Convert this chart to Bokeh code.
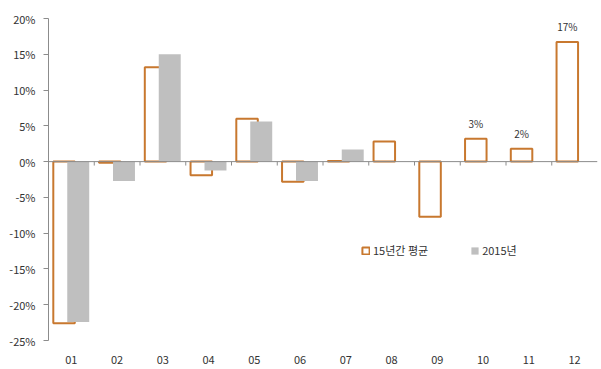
from bokeh.plotting import figure
from bokeh.models import (ColumnDataSource, FixedTicker, Range1d, Span,
                          Legend, LegendItem, PrintfTickFormatter)
from bokeh.core.properties import value
from bokeh.embed import file_html
from bokeh.resources import INLINE

months = ["01", "02", "03", "04", "05", "06", "07", "08", "09", "10", "11", "12"]
avg15 = [-22.6, -0.15, 13.2, -1.9, 6.0, -2.8, 0.1, 2.8, -7.7, 3.2, 1.8, 16.7]
y2015 = [-22.4, -2.7, 15.0, -1.25, 5.6, -2.7, 1.7, 0, 0, 0, 0, 0]
avg_labels = ["", "", "", "", "", "", "", "", "", "3%", "2%", "17%"]
y_ticks = [-25, -20, -15, -10, -5, 0, 5, 10, 15, 20]

ORANGE = "#C8782F"
GRAY = "#BFBFBF"
AXIS = "#8C8C8C"
FONT = "Noto Sans CJK KR"

n = len(months)
centers = [i + 0.5 for i in range(n)]
src = ColumnDataSource(dict(
    xa=[c - 0.16 for c in centers],
    xb=[c + 0.15 for c in centers],
    avg=avg15,
    y15=y2015,
))
lab_idx = [i for i, t in enumerate(avg_labels) if t]
lab_src = ColumnDataSource(dict(
    x=[centers[i] - 0.16 for i in lab_idx],
    y=[avg15[i] for i in lab_idx],
    t=[avg_labels[i] for i in lab_idx],
))
bounds = list(range(1, n))
tick_src = ColumnDataSource(dict(x=bounds, y0=[0] * len(bounds), y1=[-0.55] * len(bounds)))

p = figure(width=599, height=366, output_backend="svg", toolbar_location=None,
           x_range=Range1d(0, n), y_range=Range1d(-25, 20),
           min_border_left=48, min_border_right=2, min_border_top=18, min_border_bottom=10)
p.outline_line_color = None
p.xgrid.grid_line_color = None
p.ygrid.grid_line_color = None
p.background_fill_color = "white"

# zero line and category boundary ticks
p.add_layout(Span(location=0, dimension="width", line_color=AXIS, line_width=1))
p.segment(x0="x", y0="y0", x1="x", y1="y1", source=tick_src, line_color=AXIS, line_width=1)

r_avg = p.vbar(x="xa", top="avg", bottom=0, width=0.47, source=src,
               fill_color="white", line_color=ORANGE, line_width=2)
r_15 = p.vbar(x="xb", top="y15", bottom=0, width=0.48, source=src,
              fill_color=GRAY, line_color=None)

p.text(x="x", y="y", text="t", source=lab_src, text_align="center",
       text_baseline="bottom", y_offset=-8, text_font=value(FONT),
       text_font_size="10px", text_color="#333333")

# y axis
ya = p.yaxis[0]
ya.ticker = FixedTicker(ticks=y_ticks)
ya.formatter = PrintfTickFormatter(format="%d%%")
ya.axis_line_color = AXIS
ya.major_tick_line_color = AXIS
ya.major_tick_out = 5
ya.major_tick_in = 0
ya.minor_tick_line_color = None
ya.major_label_text_font = FONT
ya.major_label_text_font_size = "11px"
ya.major_label_text_color = "#333333"
ya.major_label_standoff = 8

# bottom axis: labels only
xa = p.xaxis[0]
xa.ticker = FixedTicker(ticks=centers)
xa.major_label_overrides = {c: m for c, m in zip(centers, months)}
xa.axis_line_color = None
xa.major_tick_line_color = None
xa.minor_tick_line_color = None
xa.major_label_text_font = FONT
xa.major_label_text_font_size = "11px"
xa.major_label_text_color = "#333333"
xa.major_label_standoff = 9

legend = Legend(items=[LegendItem(label="15년간 평균", renderers=[r_avg]),
                       LegendItem(label="2015년", renderers=[r_15])],
                orientation="horizontal", location=(313, 82),
                border_line_color=None, background_fill_alpha=0,
                padding=0, margin=0, spacing=42,
                glyph_width=9, glyph_height=9, label_height=12,
                label_standoff=3, label_text_font=FONT,
                label_text_font_size="11px", label_text_color="#333333")
p.add_layout(legend)

open("out.html", "w").write(file_html(p, INLINE))
